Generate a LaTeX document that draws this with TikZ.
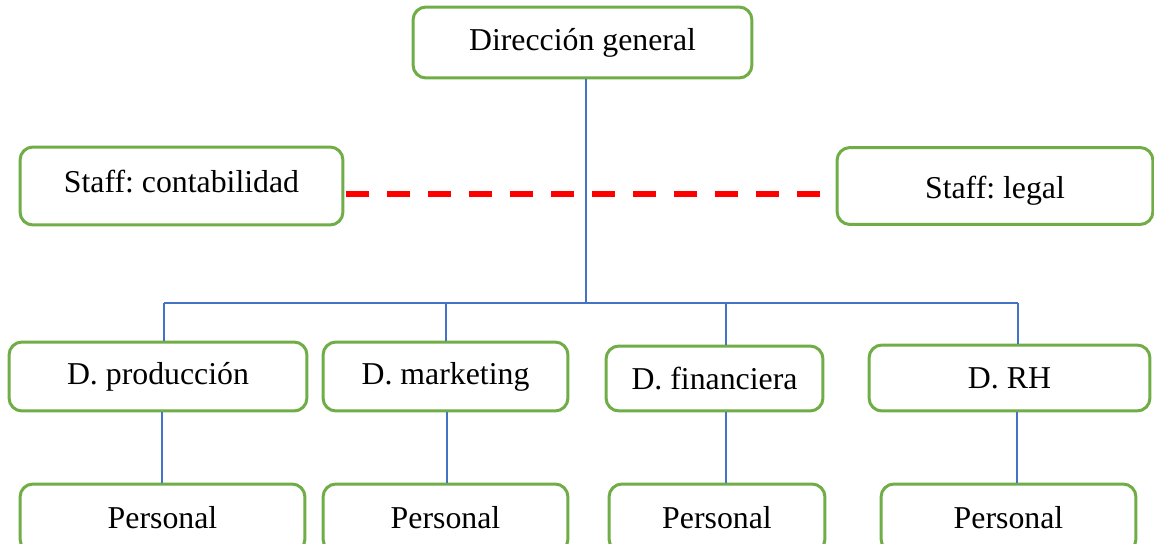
\documentclass[tikz,border=0pt]{standalone}
\usepackage{fontspec}
\setmainfont{Liberation Serif}
\frenchspacing
\definecolor{boxgreen}{HTML}{70AD47}
\definecolor{linkblue}{HTML}{4472C4}
\definecolor{staffred}{HTML}{FF0000}
\begin{document}
\begin{tikzpicture}[x=0.02cm,y=-0.02cm,
  orgbox/.style={draw=boxgreen, line width=0.06cm, rounded corners=0.26cm,
    fill=white, inner sep=0pt, align=center,
    font=\fontsize{18.1}{21}\selectfont},
  link/.style={draw=linkblue, line width=0.03cm},
  stafflink/.style={draw=staffred, line width=0.11cm,
    dash pattern=on 0.46cm off 0.36cm}]
\useasboundingbox (0,0) rectangle (1154,544);
\clip (0,0) rectangle (1154,544);

% top level
\node[orgbox, minimum width=6.78cm, minimum height=1.42cm] (dg) at (582.5,42.5) {Dirección general};

% staff units
\node[orgbox, minimum width=6.46cm, minimum height=1.56cm, text height=0.44cm, text depth=0.18cm] (sc) at (181.5,186) {Staff: contabilidad};
\node[orgbox, minimum width=6.32cm, minimum height=1.54cm, text height=0.62cm, text depth=0.12cm] (sl) at (995,186) {Staff: legal};

% departments
\node[orgbox, minimum width=5.96cm, minimum height=1.38cm] (dp) at (158,376.5) {D. producción};
\node[orgbox, minimum width=4.90cm, minimum height=1.38cm] (dm) at (445.5,376.5) {D. marketing};
\node[orgbox, minimum width=4.34cm, minimum height=1.30cm] (df) at (714.5,378.5) {D. financiera};
\node[orgbox, minimum width=5.62cm, minimum height=1.32cm] (dr) at (1009.5,378) {D. RH};

% staff below each department
\node[orgbox, minimum width=5.70cm, minimum height=1.36cm] (p1) at (162.5,518) {Personal};
\node[orgbox, minimum width=4.90cm, minimum height=1.36cm] (p2) at (445.5,518) {Personal};
\node[orgbox, minimum width=4.32cm, minimum height=1.36cm] (p3) at (717,518) {Personal};
\node[orgbox, minimum width=5.10cm, minimum height=1.36cm] (p4) at (1008.5,518) {Personal};

% bus points
\coordinate (b1) at (164,303);
\coordinate (b2) at (446,303);
\coordinate (b3) at (726,303);
\coordinate (b4) at (1018,303);
\coordinate (t0) at (586,0);
\coordinate (l1) at (162,0);
\coordinate (l2) at (447,0);
\coordinate (l3) at (726,0);
\coordinate (l4) at (1017,0);

% hierarchy connectors
\draw[link] (dg.south -| t0) -- (b1 -| t0);
\draw[link] (b1) -- (b4);
\draw[link] (b1) -- (b1 |- dp.north);
\draw[link] (b2) -- (b2 |- dm.north);
\draw[link] (b3) -- (b3 |- df.north);
\draw[link] (b4) -- (b4 |- dr.north);
\draw[link] (dp.south -| l1) -- (p1.north -| l1);
\draw[link] (dm.south -| l2) -- (p2.north -| l2);
\draw[link] (df.south -| l3) -- (p3.north -| l3);
\draw[link] (dr.south -| l4) -- (p4.north -| l4);

% staff relation
\coordinate (dl) at (0,194);
\draw[stafflink] ([xshift=0.04cm]sc.east |- dl) -- (sl.west |- dl);
\end{tikzpicture}
\end{document}
